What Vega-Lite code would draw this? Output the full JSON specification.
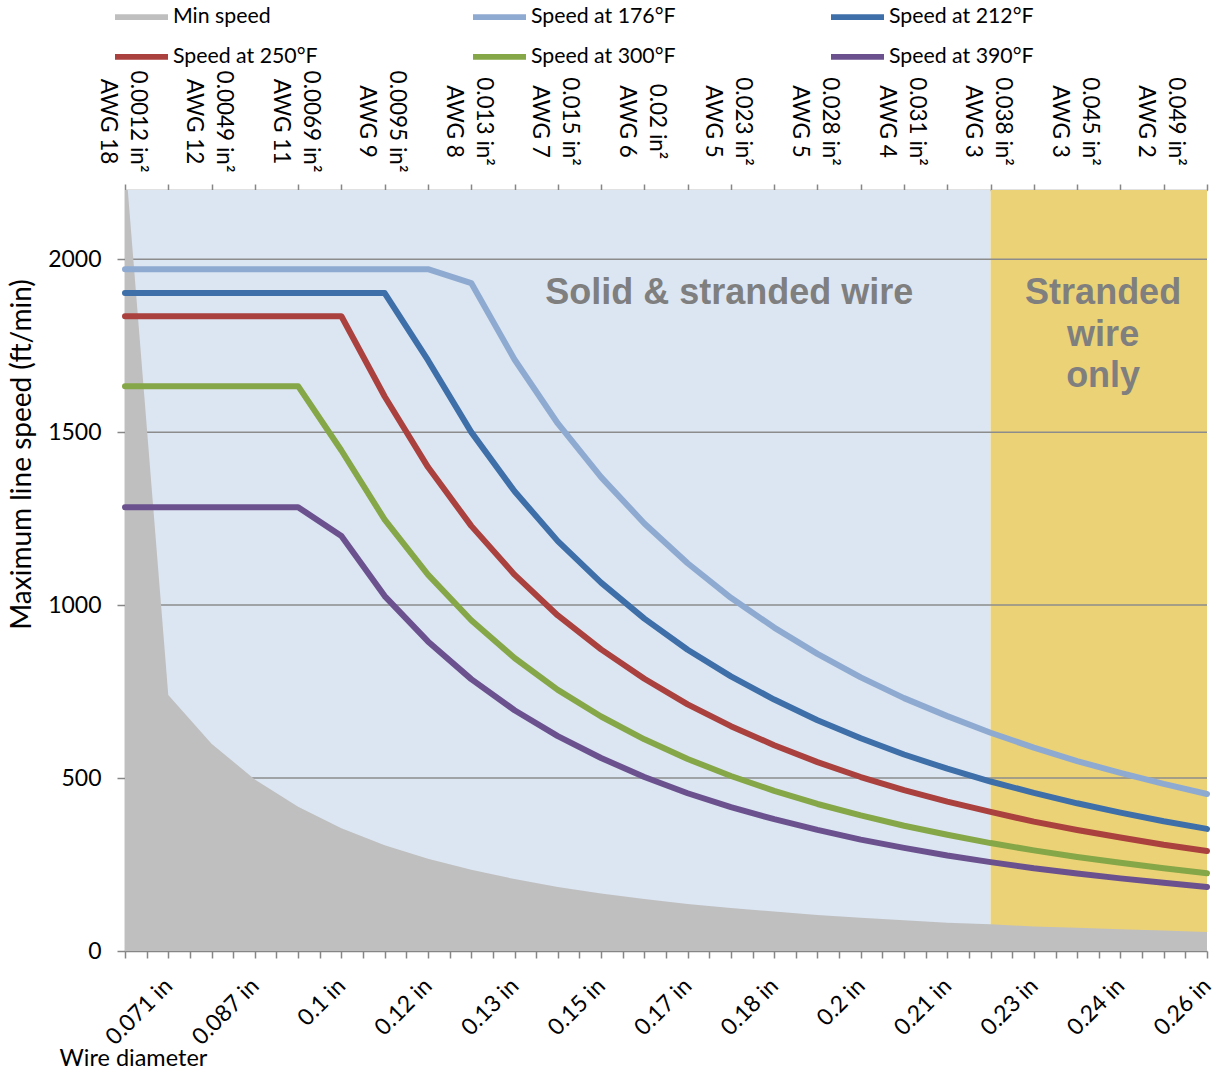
{
  "$schema": "https://vega.github.io/schema/vega-lite/v6.json",
  "width": 1082,
  "height": 761,
  "autosize": {"type": "none"},
  "padding": {"left": 125, "top": 190, "right": 15, "bottom": 119},
  "config": {"view": {"stroke": null}, "font": "Lato"},
  "datasets": {
    "regions": [{"x0": 0, "x1": 20, "region": "Solid & stranded wire"}, {"x0": 20, "x1": 25, "region": "Stranded wire only"}],
    "grid": [{"g": 500}, {"g": 1000}, {"g": 1500}, {"g": 2000}],
    "notes": [{"i": 13.96, "v": 1902, "t": "Solid & stranded wire"}, {"i": 22.6, "v": 1902, "t": "Stranded\nwire\nonly"}],
    "speeds": [
      {"i":0,"s":"Min speed","v":2300},{"i":1,"s":"Min speed","v":740},{"i":2,"s":"Min speed","v":599},{"i":3,"s":"Min speed","v":496},{"i":4,"s":"Min speed","v":417},{"i":5,"s":"Min speed","v":355},{"i":6,"s":"Min speed","v":306},{"i":7,"s":"Min speed","v":267},{"i":8,"s":"Min speed","v":235},{"i":9,"s":"Min speed","v":208},{"i":10,"s":"Min speed","v":185},{"i":11,"s":"Min speed","v":166},{"i":12,"s":"Min speed","v":150},{"i":13,"s":"Min speed","v":136},{"i":14,"s":"Min speed","v":124},{"i":15,"s":"Min speed","v":114},{"i":16,"s":"Min speed","v":104},{"i":17,"s":"Min speed","v":96},{"i":18,"s":"Min speed","v":89},{"i":19,"s":"Min speed","v":82},{"i":20,"s":"Min speed","v":77},{"i":21,"s":"Min speed","v":71},{"i":22,"s":"Min speed","v":67},{"i":23,"s":"Min speed","v":63},{"i":24,"s":"Min speed","v":59},{"i":25,"s":"Min speed","v":55},
      {"i":0,"s":"Speed at 176°F","v":1971},{"i":1,"s":"Speed at 176°F","v":1971},{"i":2,"s":"Speed at 176°F","v":1971},{"i":3,"s":"Speed at 176°F","v":1971},{"i":4,"s":"Speed at 176°F","v":1971},{"i":5,"s":"Speed at 176°F","v":1971},{"i":6,"s":"Speed at 176°F","v":1971},{"i":7,"s":"Speed at 176°F","v":1971},{"i":8,"s":"Speed at 176°F","v":1931},{"i":9,"s":"Speed at 176°F","v":1710},{"i":10,"s":"Speed at 176°F","v":1525},{"i":11,"s":"Speed at 176°F","v":1370},{"i":12,"s":"Speed at 176°F","v":1236},{"i":13,"s":"Speed at 176°F","v":1121},{"i":14,"s":"Speed at 176°F","v":1021},{"i":15,"s":"Speed at 176°F","v":935},{"i":16,"s":"Speed at 176°F","v":859},{"i":17,"s":"Speed at 176°F","v":791},{"i":18,"s":"Speed at 176°F","v":731},{"i":19,"s":"Speed at 176°F","v":679},{"i":20,"s":"Speed at 176°F","v":631},{"i":21,"s":"Speed at 176°F","v":588},{"i":22,"s":"Speed at 176°F","v":549},{"i":23,"s":"Speed at 176°F","v":515},{"i":24,"s":"Speed at 176°F","v":483},{"i":25,"s":"Speed at 176°F","v":454},
      {"i":0,"s":"Speed at 212°F","v":1902},{"i":1,"s":"Speed at 212°F","v":1902},{"i":2,"s":"Speed at 212°F","v":1902},{"i":3,"s":"Speed at 212°F","v":1902},{"i":4,"s":"Speed at 212°F","v":1902},{"i":5,"s":"Speed at 212°F","v":1902},{"i":6,"s":"Speed at 212°F","v":1902},{"i":7,"s":"Speed at 212°F","v":1708},{"i":8,"s":"Speed at 212°F","v":1500},{"i":9,"s":"Speed at 212°F","v":1329},{"i":10,"s":"Speed at 212°F","v":1185},{"i":11,"s":"Speed at 212°F","v":1065},{"i":12,"s":"Speed at 212°F","v":961},{"i":13,"s":"Speed at 212°F","v":871},{"i":14,"s":"Speed at 212°F","v":794},{"i":15,"s":"Speed at 212°F","v":727},{"i":16,"s":"Speed at 212°F","v":667},{"i":17,"s":"Speed at 212°F","v":615},{"i":18,"s":"Speed at 212°F","v":568},{"i":19,"s":"Speed at 212°F","v":527},{"i":20,"s":"Speed at 212°F","v":490},{"i":21,"s":"Speed at 212°F","v":457},{"i":22,"s":"Speed at 212°F","v":427},{"i":23,"s":"Speed at 212°F","v":400},{"i":24,"s":"Speed at 212°F","v":375},{"i":25,"s":"Speed at 212°F","v":353},
      {"i":0,"s":"Speed at 250°F","v":1835},{"i":1,"s":"Speed at 250°F","v":1835},{"i":2,"s":"Speed at 250°F","v":1835},{"i":3,"s":"Speed at 250°F","v":1835},{"i":4,"s":"Speed at 250°F","v":1835},{"i":5,"s":"Speed at 250°F","v":1835},{"i":6,"s":"Speed at 250°F","v":1603},{"i":7,"s":"Speed at 250°F","v":1399},{"i":8,"s":"Speed at 250°F","v":1229},{"i":9,"s":"Speed at 250°F","v":1088},{"i":10,"s":"Speed at 250°F","v":970},{"i":11,"s":"Speed at 250°F","v":872},{"i":12,"s":"Speed at 250°F","v":787},{"i":13,"s":"Speed at 250°F","v":713},{"i":14,"s":"Speed at 250°F","v":650},{"i":15,"s":"Speed at 250°F","v":595},{"i":16,"s":"Speed at 250°F","v":546},{"i":17,"s":"Speed at 250°F","v":503},{"i":18,"s":"Speed at 250°F","v":465},{"i":19,"s":"Speed at 250°F","v":432},{"i":20,"s":"Speed at 250°F","v":402},{"i":21,"s":"Speed at 250°F","v":374},{"i":22,"s":"Speed at 250°F","v":350},{"i":23,"s":"Speed at 250°F","v":328},{"i":24,"s":"Speed at 250°F","v":307},{"i":25,"s":"Speed at 250°F","v":289},
      {"i":0,"s":"Speed at 300°F","v":1633},{"i":1,"s":"Speed at 300°F","v":1633},{"i":2,"s":"Speed at 300°F","v":1633},{"i":3,"s":"Speed at 300°F","v":1633},{"i":4,"s":"Speed at 300°F","v":1633},{"i":5,"s":"Speed at 300°F","v":1447},{"i":6,"s":"Speed at 300°F","v":1247},{"i":7,"s":"Speed at 300°F","v":1088},{"i":8,"s":"Speed at 300°F","v":956},{"i":9,"s":"Speed at 300°F","v":847},{"i":10,"s":"Speed at 300°F","v":755},{"i":11,"s":"Speed at 300°F","v":678},{"i":12,"s":"Speed at 300°F","v":612},{"i":13,"s":"Speed at 300°F","v":555},{"i":14,"s":"Speed at 300°F","v":506},{"i":15,"s":"Speed at 300°F","v":463},{"i":16,"s":"Speed at 300°F","v":425},{"i":17,"s":"Speed at 300°F","v":392},{"i":18,"s":"Speed at 300°F","v":362},{"i":19,"s":"Speed at 300°F","v":336},{"i":20,"s":"Speed at 300°F","v":312},{"i":21,"s":"Speed at 300°F","v":291},{"i":22,"s":"Speed at 300°F","v":272},{"i":23,"s":"Speed at 300°F","v":255},{"i":24,"s":"Speed at 300°F","v":239},{"i":25,"s":"Speed at 300°F","v":225},
      {"i":0,"s":"Speed at 390°F","v":1283},{"i":1,"s":"Speed at 390°F","v":1283},{"i":2,"s":"Speed at 390°F","v":1283},{"i":3,"s":"Speed at 390°F","v":1283},{"i":4,"s":"Speed at 390°F","v":1283},{"i":5,"s":"Speed at 390°F","v":1200},{"i":6,"s":"Speed at 390°F","v":1026},{"i":7,"s":"Speed at 390°F","v":895},{"i":8,"s":"Speed at 390°F","v":786},{"i":9,"s":"Speed at 390°F","v":696},{"i":10,"s":"Speed at 390°F","v":621},{"i":11,"s":"Speed at 390°F","v":558},{"i":12,"s":"Speed at 390°F","v":503},{"i":13,"s":"Speed at 390°F","v":456},{"i":14,"s":"Speed at 390°F","v":416},{"i":15,"s":"Speed at 390°F","v":381},{"i":16,"s":"Speed at 390°F","v":350},{"i":17,"s":"Speed at 390°F","v":322},{"i":18,"s":"Speed at 390°F","v":298},{"i":19,"s":"Speed at 390°F","v":276},{"i":20,"s":"Speed at 390°F","v":257},{"i":21,"s":"Speed at 390°F","v":239},{"i":22,"s":"Speed at 390°F","v":224},{"i":23,"s":"Speed at 390°F","v":210},{"i":24,"s":"Speed at 390°F","v":197},{"i":25,"s":"Speed at 390°F","v":185}
    ]
  },
  "resolve": {"axis": {"x": "independent"}},
  "layer": [
    {
      "data": {"name": "regions"},
      "transform": [{"filter": "datum.region === 'Solid & stranded wire'"}],
      "mark": {"type": "rect", "fill": "#DCE6F2"},
      "encoding": {
        "x": {"field": "x0", "type": "quantitative", "scale": {"domain": [0, 25], "nice": false, "zero": false}, "axis": null},
        "x2": {"field": "x1"},
        "y": {
          "datum": 0, "type": "quantitative", "scale": {"domain": [0, 2200], "nice": false},
          "axis": {
            "values": [0, 500, 1000, 1500, 2000], "format": "d",
            "labelFont": "Lato", "labelFontSize": 23, "labelColor": "#000000", "labelPadding": 16,
            "tickSize": 8, "tickColor": "#868686", "tickWidth": 1.5,
            "domainColor": "#868686", "domainWidth": 1.5, "grid": false,
            "title": "Maximum line speed (ft/min)", "titleFont": "Lato", "titleFontSize": 28, "titleFontWeight": "normal", "titleColor": "#000000",
            "titleX": -103, "titleY": 264, "titleAngle": -90, "titleAlign": "center", "titleBaseline": "middle"
          }
        },
        "y2": {"datum": 2200}
      }
    },
    {
      "data": {"name": "regions"},
      "transform": [{"filter": "datum.region === 'Stranded wire only'"}],
      "mark": {"type": "rect", "fill": "#ECD276"},
      "encoding": {
        "x": {"field": "x0", "type": "quantitative", "axis": null},
        "x2": {"field": "x1"},
        "y": {"datum": 0, "type": "quantitative"},
        "y2": {"datum": 2200}
      }
    },
    {
      "data": {"name": "grid"},
      "mark": {"type": "rule", "stroke": "#8C8C8C", "strokeWidth": 1.5},
      "encoding": {
        "y": {"field": "g", "type": "quantitative"}
      }
    },
    {
      "data": {"name": "speeds"},
      "transform": [{"filter": "datum.s === 'Min speed'"}],
      "mark": {"type": "area", "clip": true, "opacity": 1},
      "encoding": {
        "x": {
          "field": "i", "type": "quantitative",
          "axis": {
            "orient": "bottom",
            "values": [0,0.5,1,1.5,2,2.5,3,3.5,4,4.5,5,5.5,6,6.5,7,7.5,8,8.5,9,9.5,10,10.5,11,11.5,12,12.5,13,13.5,14,14.5,15,15.5,16,16.5,17,17.5,18,18.5,19,19.5,20,20.5,21,21.5,22,22.5,23,23.5,24,24.5,25],
            "labelExpr": "datum.value % 2 === 1 ? ['0.071 in','0.087 in','0.1 in','0.12 in','0.13 in','0.15 in','0.17 in','0.18 in','0.2 in','0.21 in','0.23 in','0.24 in','0.26 in'][(datum.value - 1) / 2] : ''",
            "labelAngle": -45, "labelAlign": "right", "labelBaseline": "middle",
            "labelFont": "Lato", "labelFontSize": 23, "labelColor": "#000000",
            "labelPadding": 24, "labelOverlap": false, "labelFlush": false, "labelBound": false,
            "tickSize": 7, "tickColor": "#868686", "tickWidth": 1.5,
            "domainColor": "#868686", "domainWidth": 1.5, "grid": false,
            "title": "Wire diameter", "titleFont": "Lato", "titleFontSize": 23.5, "titleFontWeight": "normal", "titleColor": "#000000",
            "titleX": -66, "titleY": 114, "titleAlign": "left", "titleBaseline": "alphabetic", "titleAngle": 0
          }
        },
        "y": {"field": "v", "type": "quantitative", "stack": null},
        "color": {
          "field": "s", "type": "nominal",
          "scale": {
            "domain": ["Min speed", "Speed at 176°F", "Speed at 212°F", "Speed at 250°F", "Speed at 300°F", "Speed at 390°F"],
            "range": ["#BFBFBF", "#8FAAD1", "#3E6FA8", "#AA413E", "#86A747", "#6B528F"]
          },
          "legend": {
            "orient": "none", "legendX": -10, "legendY": -199.5, "columns": 3, "direction": "horizontal", "title": null,
            "symbolType": "M-1,-0.11H1V0.11H-1Z", "symbolSize": 2809, "symbolStrokeWidth": 0, "symbolOpacity": 1,
            "labelFont": "Lato", "labelFontSize": 21.3, "labelColor": "#000000", "labelOffset": 5,
            "columnPadding": 155, "rowPadding": 2.8
          }
        }
      }
    },
    {
      "data": {"name": "speeds"},
      "transform": [{"filter": "datum.s !== 'Min speed'"}],
      "mark": {"type": "line", "strokeWidth": 6, "strokeCap": "round", "strokeJoin": "round"},
      "encoding": {
        "x": {
          "field": "i", "type": "quantitative",
          "axis": {
            "orient": "top",
            "values": [0,1,2,3,4,5,6,7,8,9,10,11,12,13,14,15,16,17,18,19,20,21,22,23,24,25],
            "labelExpr": "datum.value % 2 === 0 ? [['0.0012 in²','AWG 18'],['0.0049 in²','AWG 12'],['0.0069 in²','AWG 11'],['0.0095 in²','AWG 9'],['0.013 in²','AWG 8'],['0.015 in²','AWG 7'],['0.02 in²','AWG 6'],['0.023 in²','AWG 5'],['0.028 in²','AWG 5'],['0.031 in²','AWG 4'],['0.038 in²','AWG 3'],['0.045 in²','AWG 3'],['0.049 in²','AWG 2']][datum.value / 2] : ''",
            "labelAngle": 90, "labelAlign": "center", "labelBaseline": "middle", "labelLineHeight": 30,
            "labelFont": "Lato", "labelFontSize": 22.5, "labelColor": "#000000", "labelOffset": 12,
            "labelPadding": 63, "labelOverlap": false, "labelFlush": false, "labelBound": false,
            "tickSize": 6, "tickColor": "#868686", "tickWidth": 1.5,
            "domainColor": "#868686", "domainWidth": 1.5, "grid": false, "title": null
          }
        },
        "y": {"field": "v", "type": "quantitative"},
        "color": {"field": "s", "type": "nominal"}
      }
    },
    {
      "data": {"name": "notes"},
      "mark": {"type": "text", "font": "Liberation Sans", "fontWeight": "bold", "fontSize": 36, "fill": "#7F7F7F", "align": "center", "baseline": "middle", "lineBreak": "\n", "lineHeight": 41.5},
      "encoding": {
        "x": {"field": "i", "type": "quantitative", "axis": null},
        "y": {"field": "v", "type": "quantitative"},
        "text": {"field": "t", "type": "nominal"}
      }
    }
  ]
}
